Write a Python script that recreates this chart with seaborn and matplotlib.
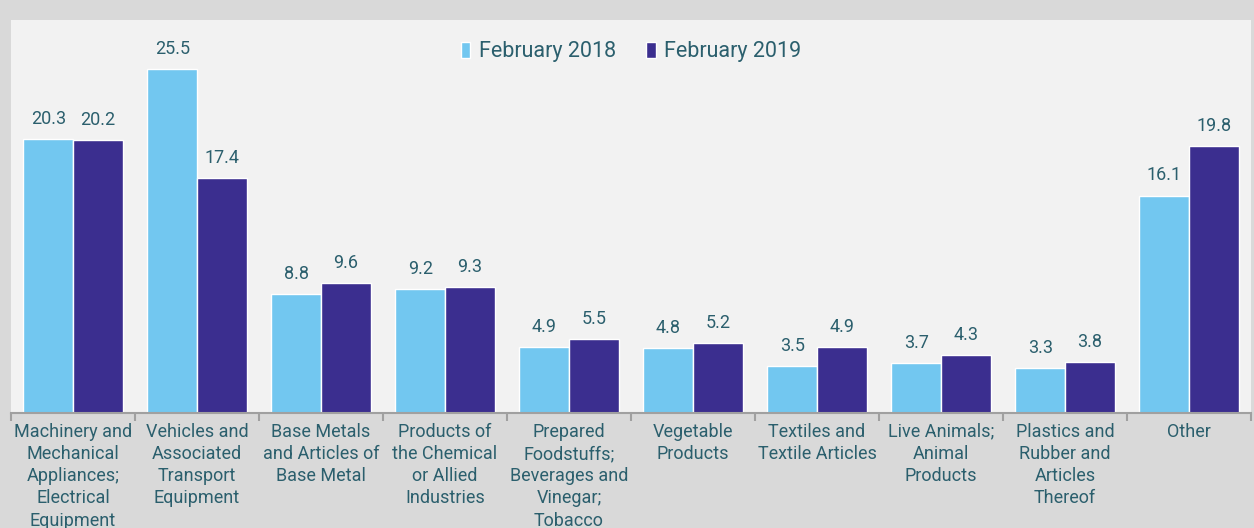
import pandas as pd
import matplotlib.pyplot as plt
import seaborn as sns
from matplotlib.ticker import FixedLocator

# Chart data
categories = ['Machinery and\nMechanical\nAppliances;\nElectrical\nEquipment',
              'Vehicles and\nAssociated\nTransport\nEquipment',
              'Base Metals\nand Articles of\nBase Metal',
              'Products of\nthe Chemical\nor Allied\nIndustries',
              'Prepared\nFoodstuffs;\nBeverages and\nVinegar;\nTobacco',
              'Vegetable\nProducts',
              'Textiles and\nTextile Articles',
              'Live Animals;\nAnimal\nProducts',
              'Plastics and\nRubber and\nArticles\nThereof',
              'Other']
series_names = ['February 2018', 'February 2019']
feb_2018 = [20.3, 25.5, 8.8, 9.2, 4.9, 4.8, 3.5, 3.7, 3.3, 16.1]
feb_2019 = [20.2, 17.4, 9.6, 9.3, 5.5, 5.2, 4.9, 4.3, 3.8, 19.8]

df = pd.DataFrame({'Category': categories * 2,
                   'Series': [series_names[0]] * len(categories) + [series_names[1]] * len(categories),
                   'Value': feb_2018 + feb_2019})

text_color = '#2b5f6d'
plt.rcParams['font.family'] = ['Roboto', 'DejaVu Sans']

fig = plt.figure(figsize=(12.54, 5.28), dpi=100, facecolor='#d9d9d9')
ax = fig.add_axes([0.0088, 0.2178, 0.9976 - 0.0088, 0.962 - 0.2178])
ax.set_facecolor('#f2f2f2')

sns.barplot(data=df, x='Category', y='Value', hue='Series',
            palette=['#72c7f0', '#3b2e8f'], saturation=1, width=0.8,
            edgecolor='white', linewidth=1, ax=ax)

# value labels above bars
for cont in ax.containers:
    ax.bar_label(cont, fmt='%.1f', padding=8, color=text_color, fontsize=13)

ax.set_ylim(0, 29.1)
ax.set_xlim(-0.5, len(categories) - 0.5)
ax.set_xlabel('')
ax.set_ylabel('')
ax.set_yticks([])
ax.tick_params(axis='x', which='major', length=0, pad=7, labelsize=13, labelcolor=text_color)
ax.xaxis.set_minor_locator(FixedLocator([i - 0.5 for i in range(len(categories) + 1)]))
ax.tick_params(axis='x', which='minor', length=6, color='#a0a0a0', width=1.5)
for lbl in ax.get_xticklabels():
    lbl.set_verticalalignment('top')
    lbl.set_multialignment('center')
    lbl.set_linespacing(1.3)

for s in ['top', 'right', 'left']:
    ax.spines[s].set_visible(False)
ax.spines['bottom'].set_color('#a0a0a0')
ax.spines['bottom'].set_linewidth(1.5)

leg = ax.legend(loc='upper center', bbox_to_anchor=(0.5, 0.995), ncol=2, frameon=False,
                fontsize=15.5, handlelength=0.45, handleheight=0.8, handletextpad=0.4,
                columnspacing=1.4)
for t in leg.get_texts():
    t.set_color(text_color)

fig.savefig('out.png', dpi=100, facecolor=fig.get_facecolor())
